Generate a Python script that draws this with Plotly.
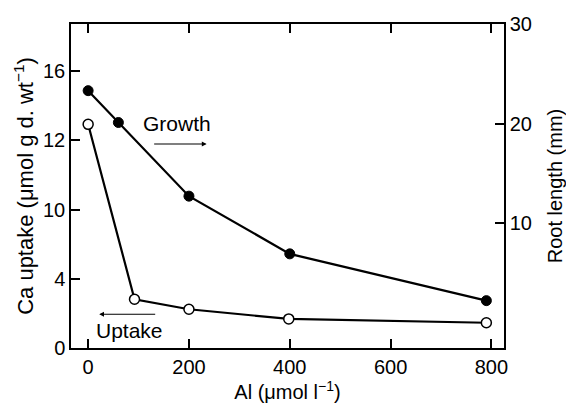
import plotly.graph_objects as go

# Data
al_growth = [0, 60, 200, 400, 790]
root_length = [23.3, 20.1, 12.7, 6.9, 2.2]

al_uptake = [0, 92, 200, 398, 790]
ca_uptake = [12.93, 2.82, 2.24, 1.68, 1.46]

x_ticks = [0, 200, 400, 600, 800]
left_tickvals = [0, 4, 8, 12, 16]
left_ticktext = ["0", "4", "10", "12", "16"]
right_ticks = [10, 20, 30]

FONT = "Liberation Sans, Arial, Helvetica, sans-serif"

fig = go.Figure()
fig.add_trace(go.Scatter(
    x=al_uptake, y=ca_uptake, mode="lines+markers", yaxis="y",
    line=dict(color="black", width=2.2),
    marker=dict(symbol="circle", size=10, color="white",
                line=dict(color="black", width=1.5)),
    showlegend=False, cliponaxis=False))
fig.add_trace(go.Scatter(
    x=al_growth, y=root_length, mode="lines+markers", yaxis="y2",
    line=dict(color="black", width=2.2),
    marker=dict(symbol="circle", size=10, color="black",
                line=dict(color="black", width=1)),
    showlegend=False, cliponaxis=False))

axis_common = dict(showline=True, linecolor="black", linewidth=1.5,
                   ticks="inside", ticklen=9, tickwidth=1.5, tickcolor="black",
                   showgrid=False, zeroline=False, automargin=False,
                   tickfont=dict(family=FONT, size=20, color="black"))

fig.update_layout(
    width=566, height=403,
    margin=dict(l=71, r=62, t=24, b=55),
    paper_bgcolor="white", plot_bgcolor="white",
    font=dict(family=FONT, size=20, color="black"),
    xaxis=dict(range=[-34, 825], tickvals=x_ticks, mirror="ticks",
               title=dict(text="Al (μmol l<sup>−1</sup>)", standoff=4,
                          font=dict(family=FONT, size=20)),
               **axis_common),
    yaxis=dict(range=[0, 18.73], tickvals=left_tickvals, ticktext=left_ticktext,
               title=dict(text="Ca uptake (μmol g d. wt<sup>−1</sup>)", standoff=3,
                          font=dict(family=FONT, size=22)),
               **axis_common),
    yaxis2=dict(range=[-2.56, 30], tickvals=right_ticks, overlaying="y", side="right",
                title=dict(text="Root length (mm)", standoff=21,
                           font=dict(family=FONT, size=20)),
                **axis_common),
)

fig.add_annotation(x=177, y=20.05, xref="x", yref="y2", text="Growth",
                   showarrow=False, font=dict(family=FONT, size=21, color="black"))
fig.add_annotation(x=235, y=17.94, ax=128, ay=17.94, xref="x", yref="y2",
                   axref="x", ayref="y2", text="", showarrow=True,
                   arrowhead=2, arrowsize=0.8, arrowwidth=1.2, arrowcolor="black",
                   standoff=0, startstandoff=0)
fig.add_annotation(x=82, y=1.04, xref="x", yref="y", text="Uptake",
                   showarrow=False, font=dict(family=FONT, size=21, color="black"))
fig.add_annotation(x=22, y=1.95, ax=136, ay=1.95, xref="x", yref="y",
                   axref="x", ayref="y", text="", showarrow=True,
                   arrowhead=2, arrowsize=0.8, arrowwidth=1.2, arrowcolor="black",
                   standoff=0, startstandoff=0)

fig.write_html("out.html")
